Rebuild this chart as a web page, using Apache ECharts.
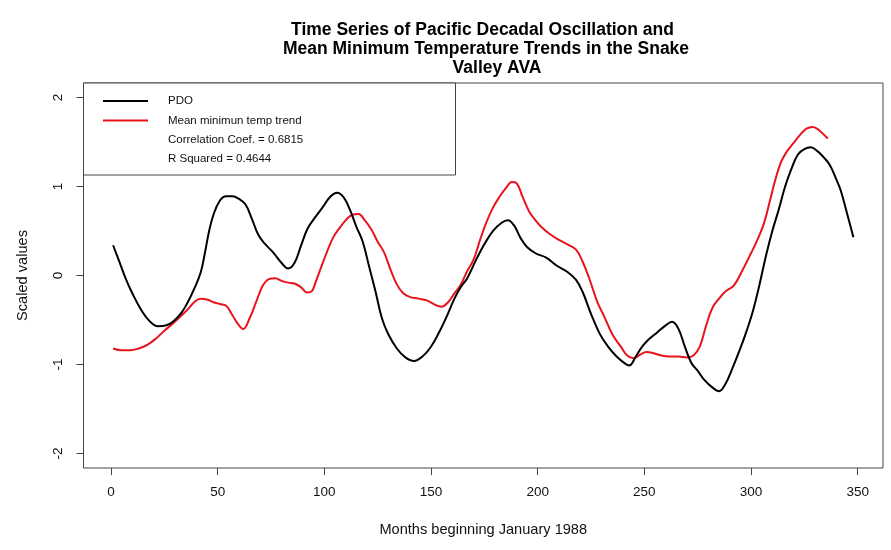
<!DOCTYPE html>
<html>
<head>
<meta charset="utf-8">
<script src="https://cdn.jsdelivr.net/npm/echarts@6/dist/echarts.min.js"></script>
<style>
  html, body { margin: 0; padding: 0; background: #fff; }
  #chart { width: 891px; height: 550px; }
</style>
</head>
<body>
<div id="chart"></div>
<script>
// Smoothed monthly series, months counted from January 1988
const pdoMonths = [1, 4, 7, 10, 14, 18, 22, 26, 29, 33, 36, 39, 42, 44, 46, 48, 51, 54, 57, 60, 63, 66, 69, 72, 76, 80, 83, 86, 89, 92, 95, 99, 103, 106, 109, 112, 115, 118, 121, 124, 127, 130, 134, 138, 142, 146, 150, 154, 157, 161, 164, 167, 171, 175, 179, 183, 186, 189, 192, 195, 199, 204, 209, 214, 218, 221, 225, 229, 233, 237, 241, 243, 246, 249, 252, 256, 260, 263, 266, 269, 272, 275, 278, 282, 285, 288, 291, 295, 298, 301, 304, 307, 310, 313, 316, 319, 322, 325, 328, 331, 334, 337, 340, 342, 345, 348];
const pdoValues = [0.34, 0.15, -0.04, -0.20, -0.38, -0.51, -0.57, -0.56, -0.52, -0.42, -0.30, -0.15, 0.03, 0.25, 0.50, 0.68, 0.84, 0.89, 0.89, 0.86, 0.80, 0.64, 0.46, 0.36, 0.26, 0.14, 0.08, 0.14, 0.33, 0.52, 0.63, 0.76, 0.89, 0.93, 0.88, 0.74, 0.55, 0.38, 0.10, -0.18, -0.48, -0.66, -0.82, -0.92, -0.96, -0.91, -0.80, -0.63, -0.48, -0.26, -0.13, -0.03, 0.17, 0.35, 0.50, 0.59, 0.62, 0.56, 0.42, 0.32, 0.25, 0.20, 0.11, 0.04, -0.05, -0.18, -0.43, -0.65, -0.80, -0.91, -0.99, -1.01, -0.91, -0.80, -0.72, -0.64, -0.56, -0.52, -0.60, -0.80, -0.98, -1.07, -1.17, -1.26, -1.30, -1.22, -1.06, -0.82, -0.62, -0.39, -0.10, 0.22, 0.50, 0.74, 1.00, 1.20, 1.36, 1.42, 1.44, 1.40, 1.33, 1.24, 1.08, 0.96, 0.70, 0.43];

const tempMonths = [1, 5, 9, 13, 17, 21, 25, 29, 33, 36, 39, 42, 45, 48, 51, 54, 57, 60, 62, 65, 68, 71, 74, 77, 80, 83, 86, 89, 92, 94, 96, 98, 101, 104, 107, 110, 113, 116, 119, 122, 125, 128, 131, 134, 137, 140, 144, 148, 152, 155, 158, 161, 164, 167, 170, 173, 176, 179, 182, 185, 188, 190, 193, 196, 199, 202, 206, 210, 214, 218, 221, 224, 228, 231, 235, 239, 242, 245, 248, 251, 254, 258, 262, 266, 270, 273, 276, 279, 282, 285, 288, 292, 296, 300, 303, 306, 309, 311, 314, 317, 320, 323, 326, 329, 332, 336];
const tempValues = [-0.82, -0.84, -0.84, -0.82, -0.78, -0.71, -0.62, -0.54, -0.45, -0.38, -0.30, -0.26, -0.27, -0.30, -0.32, -0.34, -0.45, -0.56, -0.60, -0.48, -0.30, -0.12, -0.04, -0.03, -0.06, -0.08, -0.09, -0.13, -0.19, -0.18, -0.07, 0.06, 0.25, 0.42, 0.53, 0.62, 0.68, 0.69, 0.62, 0.52, 0.38, 0.26, 0.07, -0.10, -0.20, -0.24, -0.26, -0.28, -0.33, -0.35, -0.30, -0.20, -0.10, 0.05, 0.18, 0.40, 0.60, 0.76, 0.88, 0.98, 1.05, 1.04, 0.88, 0.72, 0.62, 0.54, 0.46, 0.40, 0.35, 0.29, 0.16, -0.02, -0.30, -0.45, -0.66, -0.80, -0.90, -0.93, -0.89, -0.86, -0.87, -0.90, -0.91, -0.91, -0.92, -0.90, -0.80, -0.56, -0.36, -0.26, -0.18, -0.11, 0.06, 0.25, 0.40, 0.58, 0.85, 1.04, 1.27, 1.40, 1.49, 1.58, 1.65, 1.67, 1.63, 1.54];

const xTicks = [0, 50, 100, 150, 200, 250, 300, 350];
const yTicks = [-2, -1, 0, 1, 2];

const seriesNames = ['PDO', 'Mean minimun temp trend'];
const correlationCoef = 0.6815;
const rSquared = 0.4644;

const titleLines = [
  'Time Series of Pacific Decadal Oscillation and',
  'Mean Minimum Temperature Trends in the Snake',
  'Valley AVA'
];
const xAxisTitle = 'Months beginning January 1988';
const yAxisTitle = 'Scaled values';

// Axis limits padded by 4% beyond the data range
const xMin = -12.88, xMax = 361.88;
const yMin = -2.163, yMax = 2.163;

const FONT = '"Liberation Sans", Arial, Helvetica, sans-serif';

const pairs = (xs, ys) => xs.map((x, i) => [x, ys[i]]);

// Each title line is centred on its own, like the plotting device does it
const titleCenters = [482.5, 486, 497];
const titleTops = [21, 40, 59];

const chart = echarts.init(document.getElementById('chart'), null, { renderer: 'canvas' });

chart.setOption({
  backgroundColor: '#ffffff',
  animation: false,
  textStyle: { fontFamily: FONT },
  title: titleLines.map((line, i) => ({
    text: line,
    left: titleCenters[i],
    top: titleTops[i],
    textAlign: 'center',
    padding: 0,
    textStyle: {
      fontFamily: FONT,
      fontSize: 17.5,
      fontWeight: 'bold',
      color: '#000'
    }
  })),
  grid: {
    left: 83.5,
    right: 8,
    top: 83,
    bottom: 82,
    show: true,
    borderColor: '#444',
    borderWidth: 1,
    backgroundColor: 'transparent'
  },
  legend: {
    orient: 'vertical',
    left: 103,
    top: 94,
    padding: 0,
    icon: 'rect',
    itemWidth: 45,
    itemHeight: 2,
    itemGap: 5.5,
    data: seriesNames,
    textStyle: { fontFamily: FONT, fontSize: 11.5, color: '#111', padding: [0, 0, 0, 15], height: 14, lineHeight: 14 },
    selectedMode: false
  },
  xAxis: {
    type: 'value',
    min: xMin,
    max: xMax,
    name: xAxisTitle,
    nameLocation: 'middle',
    nameGap: 54,
    nameTextStyle: { fontFamily: FONT, fontSize: 14.6, color: '#111' },
    splitLine: { show: false },
    axisLine: { show: false, onZero: false },
    axisTick: {
      show: true,
      inside: false,
      length: 7,
      customValues: xTicks,
      lineStyle: { color: '#444', width: 1 }
    },
    axisLabel: {
      customValues: xTicks,
      margin: 17,
      fontFamily: FONT,
      fontSize: 13.5,
      color: '#111'
    }
  },
  yAxis: {
    type: 'value',
    min: yMin,
    max: yMax,
    name: yAxisTitle,
    nameLocation: 'middle',
    nameGap: 53,
    nameRotate: 90,
    nameTextStyle: { fontFamily: FONT, fontSize: 14.6, color: '#111' },
    splitLine: { show: false },
    axisLine: { show: false, onZero: false },
    axisTick: {
      show: true,
      inside: false,
      length: 7,
      customValues: yTicks,
      lineStyle: { color: '#444', width: 1 }
    },
    axisLabel: {
      customValues: yTicks,
      rotate: 90,
      margin: 18,
      fontFamily: FONT,
      fontSize: 13.5,
      color: '#111'
    }
  },
  series: [
    {
      name: seriesNames[0],
      type: 'line',
      data: pairs(pdoMonths, pdoValues),
      smooth: 0.4,
      symbol: 'none',
      lineStyle: { color: '#000000', width: 2 },
      itemStyle: { color: '#000000' },
      z: 3
    },
    {
      name: seriesNames[1],
      type: 'line',
      data: pairs(tempMonths, tempValues),
      smooth: 0.4,
      symbol: 'none',
      lineStyle: { color: '#e8141c', width: 2 },
      itemStyle: { color: '#e8141c' },
      z: 2
    }
  ],
  graphic: [
    {
      type: 'rect',
      z: 1,
      shape: { x: 83.5, y: 83, width: 372, height: 92 },
      style: { fill: '#ffffff', stroke: '#444', lineWidth: 1 }
    },
    {
      type: 'text',
      z: 10,
      left: 168,
      top: 130,
      style: {
        text: 'Correlation Coef. = ' + correlationCoef.toFixed(4) + '\nR Squared = ' + rSquared.toFixed(4),
        font: '11.5px ' + FONT,
        fill: '#111',
        lineHeight: 19
      }
    }
  ]
});
</script>
</body>
</html>
